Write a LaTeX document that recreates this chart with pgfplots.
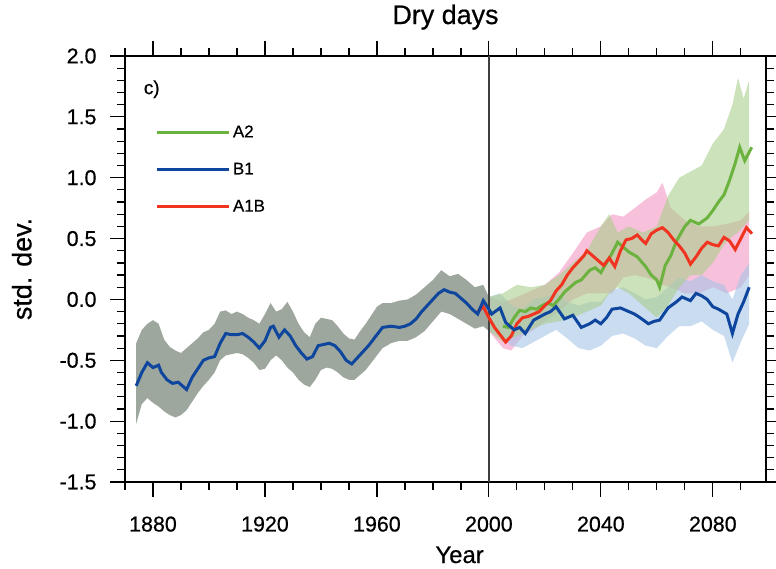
\documentclass[border=0pt]{standalone}
\usepackage{fontspec}
\setmainfont{Liberation Sans}[FakeBold=0.6]
\usepackage{pgfplots}
\pgfplotsset{compat=1.18}
\usepackage{pgfplotstable}
\usepgfplotslibrary{fillbetween}

\definecolor{lineA2}{RGB}{108,178,62}
\definecolor{lineB1}{RGB}{14,70,158}
\definecolor{lineA1B}{RGB}{240,52,32}
\definecolor{bandHist}{RGB}{158,167,158}
\definecolor{bandA2}{RGB}{170,206,140}
\definecolor{bandB1}{RGB}{166,196,230}
\definecolor{bandA1B}{RGB}{245,166,204}

% historical envelope (shared by all scenarios)
\pgfplotstableread{
year lo hi
1874 -1.02 -0.36
1876 -0.86 -0.25
1878 -0.81 -0.20
1880 -0.85 -0.17
1882 -0.88 -0.20
1884 -0.92 -0.33
1886 -0.95 -0.39
1888 -0.97 -0.42
1890 -0.95 -0.44
1892 -0.91 -0.40
1894 -0.84 -0.36
1896 -0.77 -0.32
1898 -0.71 -0.27
1900 -0.66 -0.25
1902 -0.60 -0.20
1904 -0.50 -0.10
1906 -0.46 -0.09
1908 -0.45 -0.12
1910 -0.44 -0.10
1912 -0.45 -0.12
1914 -0.48 -0.15
1916 -0.52 -0.17
1918 -0.58 -0.20
1920 -0.57 -0.12
1922 -0.50 -0.03
1924 -0.46 -0.10
1926 -0.50 -0.08
1928 -0.56 -0.02
1930 -0.60 -0.10
1932 -0.66 -0.20
1934 -0.70 -0.27
1936 -0.72 -0.31
1938 -0.66 -0.20
1940 -0.58 -0.15
1942 -0.56 -0.16
1944 -0.57 -0.17
1946 -0.60 -0.22
1948 -0.64 -0.28
1950 -0.66 -0.32
1952 -0.66 -0.33
1954 -0.62 -0.26
1956 -0.58 -0.20
1958 -0.52 -0.13
1960 -0.46 -0.06
1962 -0.40 -0.03
1965 -0.36 -0.03
1968 -0.34 -0.01
1971 -0.34 0.00
1974 -0.31 0.04
1977 -0.26 0.10
1980 -0.18 0.16
1983 -0.10 0.24
1986 -0.12 0.19
1989 -0.16 0.21
1992 -0.20 0.16
1995 -0.24 0.10
1998 -0.22 0.12
2000 -0.26 0.02
}\histband

\pgfplotstableread{
year lo hi
2000 -0.26 0.02
2004 -0.30 0.05
2008 -0.38 -0.05
2012 -0.40 -0.08
2016 -0.35 0.00
2020 -0.30 0.02
2024 -0.25 0.05
2028 -0.32 -0.02
2032 -0.40 -0.05
2036 -0.42 -0.02
2040 -0.38 -0.02
2044 -0.30 0.08
2048 -0.28 0.10
2052 -0.32 0.05
2056 -0.38 0.00
2060 -0.40 0.02
2064 -0.30 0.10
2068 -0.22 0.18
2072 -0.22 0.15
2076 -0.18 0.20
2080 -0.25 0.15
2084 -0.30 0.12
2087 -0.52 0.00
2090 -0.35 0.20
2093 -0.20 0.30
}\bandBone

\pgfplotstableread{
year lo hi
2000 -0.26 0.02
2005 -0.40 -0.02
2008 -0.42 0.00
2012 -0.30 0.04
2016 -0.25 0.08
2020 -0.18 0.12
2025 -0.10 0.22
2030 0.00 0.38
2035 0.05 0.55
2040 0.05 0.60
2044 0.05 0.70
2048 0.18 0.68
2052 0.20 0.75
2056 0.18 0.82
2060 0.15 0.88
2062 0.12 0.96
2065 0.10 0.75
2070 0.05 0.65
2075 0.05 0.60
2080 0.10 0.60
2085 0.05 0.62
2090 0.10 0.65
2093 0.20 0.72
}\bandAoneB

\pgfplotstableread{
year lo hi
2000 -0.26 0.02
2005 -0.35 0.05
2010 -0.30 0.12
2015 -0.25 0.10
2020 -0.20 0.12
2025 -0.18 0.20
2030 -0.15 0.30
2035 -0.10 0.40
2040 -0.05 0.60
2043 0.05 0.70
2046 0.10 0.55
2050 0.05 0.60
2055 -0.05 0.55
2060 -0.15 0.60
2064 -0.05 0.85
2068 0.10 1.00
2072 0.20 1.05
2076 0.20 1.10
2080 0.30 1.28
2084 0.45 1.40
2087 0.52 1.60
2089 0.55 1.82
2091 0.60 1.65
2093 0.65 1.80
}\bandAtwo

\pgfplotstableread{
year val
1874 -0.71
1876 -0.60
1878 -0.52
1880 -0.56
1882 -0.54
1883 -0.60
1885 -0.66
1887 -0.69
1889 -0.68
1891 -0.72
1892 -0.74
1894 -0.64
1896 -0.57
1898 -0.50
1900 -0.48
1902 -0.47
1904 -0.36
1906 -0.28
1908 -0.29
1910 -0.29
1912 -0.28
1914 -0.31
1916 -0.35
1918 -0.40
1920 -0.34
1922 -0.23
1923 -0.22
1925 -0.31
1927 -0.25
1929 -0.30
1931 -0.38
1933 -0.44
1935 -0.49
1937 -0.47
1939 -0.38
1941 -0.37
1943 -0.36
1945 -0.38
1947 -0.43
1949 -0.50
1951 -0.53
1953 -0.48
1955 -0.43
1957 -0.38
1959 -0.32
1962 -0.23
1965 -0.22
1968 -0.23
1970 -0.22
1972 -0.20
1974 -0.16
1976 -0.10
1978 -0.05
1980 0.00
1982 0.05
1984 0.08
1986 0.06
1988 0.05
1990 0.01
1992 -0.03
1994 -0.08
1996 -0.12
1998 -0.01
2000 -0.08
2001 -0.12
2004 -0.07
2006 -0.19
2009 -0.25
2011 -0.23
2013 -0.28
2016 -0.17
2020 -0.12
2022 -0.10
2024 -0.06
2027 -0.16
2030 -0.13
2033 -0.23
2036 -0.20
2038 -0.17
2040 -0.20
2042 -0.15
2044 -0.08
2047 -0.07
2050 -0.10
2052 -0.12
2054 -0.15
2057 -0.20
2059 -0.18
2061 -0.17
2064 -0.07
2067 -0.02
2069 0.02
2072 -0.01
2074 0.05
2076 0.03
2078 0.00
2080 -0.06
2082 -0.08
2085 -0.12
2087 -0.28
2089 -0.12
2091 -0.02
2093 0.10
}\lineBone

\pgfplotstableread{
year val
1996 -0.10
1998 -0.06
2000 -0.15
2002 -0.23
2004 -0.29
2006 -0.35
2008 -0.30
2010 -0.20
2012 -0.15
2014 -0.14
2016 -0.12
2018 -0.10
2020 -0.05
2022 -0.01
2024 0.07
2026 0.12
2028 0.20
2030 0.26
2032 0.31
2034 0.36
2035 0.40
2037 0.36
2039 0.32
2041 0.28
2043 0.34
2045 0.27
2047 0.40
2049 0.49
2051 0.50
2053 0.53
2055 0.48
2056 0.46
2058 0.54
2060 0.57
2062 0.59
2064 0.55
2066 0.49
2068 0.44
2070 0.38
2072 0.29
2074 0.35
2076 0.42
2078 0.47
2080 0.45
2082 0.44
2084 0.51
2086 0.48
2088 0.41
2090 0.50
2092 0.59
2094 0.54
}\lineAoneB

\pgfplotstableread{
year val
2005 -0.22
2007 -0.23
2009 -0.15
2011 -0.09
2013 -0.10
2015 -0.07
2017 -0.08
2019 -0.05
2021 -0.03
2023 -0.05
2025 0.00
2027 0.06
2029 0.10
2031 0.14
2033 0.16
2036 0.24
2038 0.26
2040 0.22
2042 0.30
2044 0.38
2046 0.47
2048 0.43
2050 0.39
2053 0.35
2056 0.27
2058 0.20
2060 0.16
2061 0.10
2063 0.28
2065 0.36
2067 0.48
2070 0.60
2072 0.65
2075 0.62
2078 0.67
2080 0.73
2082 0.80
2084 0.86
2086 0.98
2088 1.12
2089.6 1.25
2091.4 1.14
2093.9 1.25
}\lineAtwo

\begin{document}
\begin{tikzpicture}
\begin{axis}[
    width=641bp, height=426bp, scale only axis,
    at={(0,0)}, anchor=south west,
    xmin=1870, xmax=2099,
    ymin=-1.5, ymax=2.0,
    xtick={1880,1920,...,2080},
    minor xtick={1870,1880,...,2090},
    ytick={-1.5,-1.0,...,2.0},
    minor y tick num=4,
    tick align=outside,
    major tick length=15bp,
    minor tick length=8bp,
    every tick/.style={black, line width=1.2bp},
    axis line style={line width=1.5bp},
    /pgf/number format/assume math mode=true,
    ticklabel style={font=\fontsize{21.5}{25}\selectfont},
    xticklabel style={/pgf/number format/set thousands separator={}, yshift=-16bp},
    yticklabel style={/pgf/number format/.cd, fixed, fixed zerofill, precision=1, /tikz/xshift=-10bp},
    title={Dry days},
    title style={font=\fontsize{27}{32}\selectfont, at={(0.5,1)}, anchor=base, yshift=26bp},
    xlabel={Year},
    xlabel style={font=\fontsize{24}{28}\selectfont, at={(axis description cs:0.522,0)}, anchor=base, yshift=-81bp},
    ylabel={std. dev.},
    ylabel style={font=\fontsize{27}{32}\selectfont, at={(axis description cs:-0.161,0.5)}, anchor=center},
    legend style={draw=none, fill=none, at={(axis description cs:0.048,0.842)}, anchor=north west,
        font=\fontsize{17}{20}\selectfont, row sep=20bp, inner sep=0pt},
    legend cell align=left,
    legend image code/.code={\draw[#1] (0bp,0bp) -- (72bp,0bp);},
]
\addlegendimage{lineA2, line width=3bp}
\addlegendentry{A2}
\addlegendimage{lineB1, line width=3bp}
\addlegendentry{B1}
\addlegendimage{lineA1B, line width=3bp}
\addlegendentry{A1B}

% envelopes
\addplot[draw=none, name path=hlo, forget plot] table[x=year, y=lo] {\histband};
\addplot[draw=none, name path=hhi, forget plot] table[x=year, y=hi] {\histband};
\addplot[fill=bandHist, draw=none, forget plot] fill between[of=hlo and hhi];

\addplot[draw=none, name path=plo, forget plot] table[x=year, y=lo] {\bandAoneB};
\addplot[draw=none, name path=phi, forget plot] table[x=year, y=hi] {\bandAoneB};
\addplot[fill=bandA1B, fill opacity=0.7, draw=none, forget plot] fill between[of=plo and phi];

\addplot[draw=none, name path=blo, forget plot] table[x=year, y=lo] {\bandBone};
\addplot[draw=none, name path=bhi, forget plot] table[x=year, y=hi] {\bandBone};
\addplot[fill=bandB1, fill opacity=0.6, draw=none, forget plot] fill between[of=blo and bhi];

\addplot[draw=none, name path=glo, forget plot] table[x=year, y=lo] {\bandAtwo};
\addplot[draw=none, name path=ghi, forget plot] table[x=year, y=hi] {\bandAtwo};
\addplot[fill=bandA2, fill opacity=0.6, draw=none, forget plot] fill between[of=glo and ghi];

% year 2000 marker
\addplot[forget plot, black!75, line width=1.5bp] coordinates {(2000,-1.5) (2000,2.0)};

% ensemble means
\addplot[forget plot, lineA2, line width=3bp] table[x=year, y=val] {\lineAtwo};
\addplot[forget plot, lineA1B, line width=3bp] table[x=year, y=val] {\lineAoneB};
\addplot[forget plot, lineB1, line width=3bp] table[x=year, y=val] {\lineBone};

\node[anchor=west, font=\fontsize{19}{22}\selectfont] at (rel axis cs:0.024,0.922) {c)};
\end{axis}
\pgfresetboundingbox
\path[use as bounding box] (-125bp,-87bp) rectangle (651bp,482bp);
\end{tikzpicture}
\end{document}
